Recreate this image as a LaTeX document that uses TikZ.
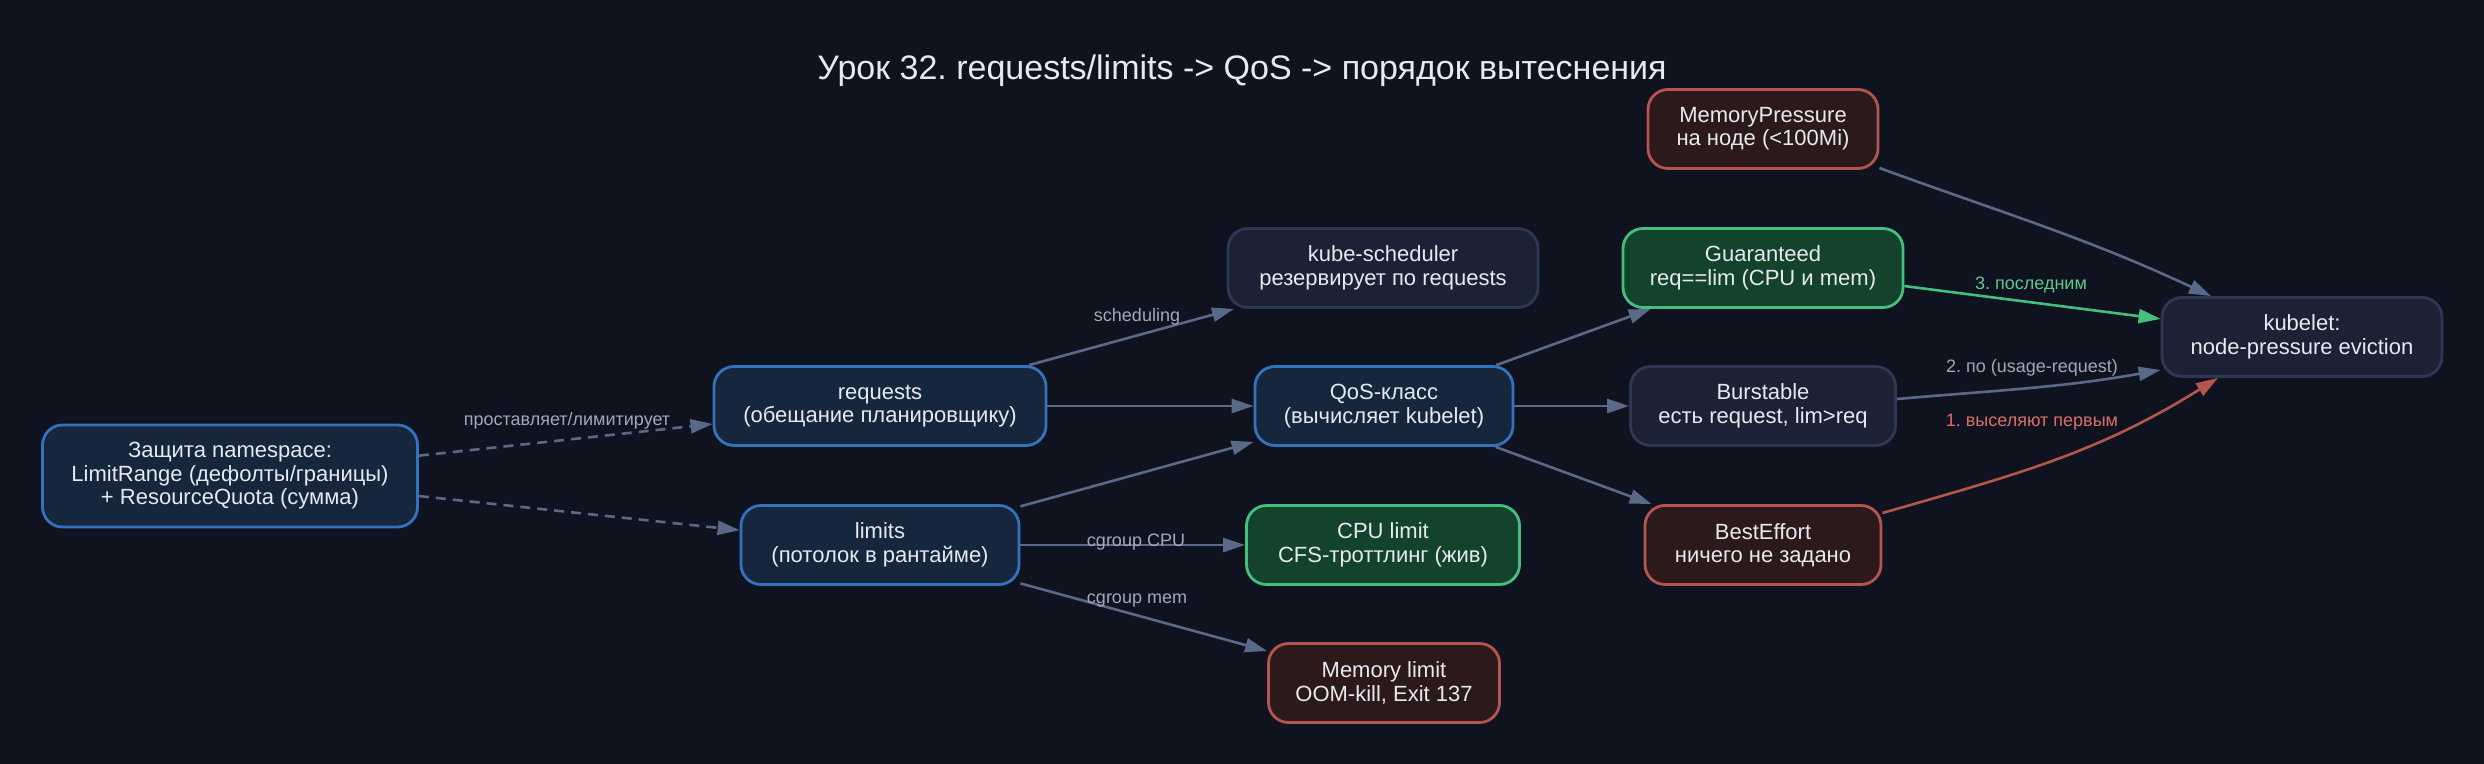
\documentclass[tikz,border=0pt]{standalone}
\usepackage{fontspec}
\setmainfont{Liberation Sans}
\usetikzlibrary{arrows.meta}
\frenchspacing
\definecolor{bg}{RGB}{15,19,32}
\definecolor{txt}{RGB}{230,234,240}
\definecolor{blueFill}{RGB}{22,39,61}
\definecolor{blueLine}{RGB}{50,115,188}
\definecolor{greyFill}{RGB}{28,34,53}
\definecolor{greyLine}{RGB}{46,56,84}
\definecolor{greenFill}{RGB}{20,67,44}
\definecolor{greenLine}{RGB}{70,190,125}
\definecolor{redFill}{RGB}{44,26,27}
\definecolor{redLine}{RGB}{180,85,80}
\definecolor{connCol}{RGB}{90,105,135}
\definecolor{lblCol}{RGB}{160,168,186}
\definecolor{greenLbl}{RGB}{95,200,140}
\definecolor{redLbl}{RGB}{220,110,105}
\begin{document}
\begin{tikzpicture}[x=.5pt,y=-.5pt,
box/.style={rounded corners=10pt,line width=1.4pt,align=center,text=txt,inner sep=0pt,
  font=\fontsize{11}{11.7}\selectfont,minimum height=39.5pt},
bluebox/.style={draw=blueLine,fill=blueFill},
greybox/.style={draw=greyLine,fill=greyFill},
greenbox/.style={draw=greenLine,fill=greenFill},
redbox/.style={draw=redLine,fill=redFill},
conn/.style={draw=connCol,line width=1.3pt,-{Triangle[length=11pt,width=7pt]}},
dashconn/.style={conn,dash pattern=on 5pt off 3.5pt},
lbl/.style={text=lblCol,anchor=base,inner sep=0pt,font=\fontsize{9}{10}\selectfont}]
\useasboundingbox(0,0)rectangle(2484,764);
\fill[bg](0,0)rectangle(2484,764);
\node[anchor=base,text=txt,font=\fontsize{17}{20}\selectfont](title)at(1242,80){Урок 32. requests/limits -> QoS -> порядок вытеснения};
\node[box,bluebox,minimum width=187.5pt,minimum height=51pt](ns)at(230,476){Защита namespace:\\LimitRange (дефолты/границы)\\+ ResourceQuota (сумма)};
\node[box,bluebox,minimum width=166pt](req)at(880,406){requests\\(обещание планировщику)};
\node[box,bluebox,minimum width=139pt](lim)at(880,545){limits\\(потолок в рантайме)};
\node[box,greybox,minimum width=155pt](sched)at(1383,268){kube-scheduler\\резервирует по requests};
\node[box,bluebox,minimum width=129pt](qos)at(1384,406){QoS-класс\\(вычисляет kubelet)};
\node[box,greenbox,minimum width=136.5pt](cpu)at(1383,545){CPU limit\\CFS-троттлинг (жив)};
\node[box,redbox,minimum width=115.5pt](mem)at(1384,683){Memory limit\\OOM-kill, Exit 137};
\node[box,redbox,minimum width=115pt](press)at(1763,129){MemoryPressure\\на ноде (<100Mi)};
\node[box,greenbox,minimum width=140pt](guar)at(1763,268){Guaranteed\\req==lim (CPU и mem)};
\node[box,greybox,minimum width=132.5pt](burst)at(1763,406){Burstable\\есть request, lim>req};
\node[box,redbox,minimum width=118pt](best)at(1763,545){BestEffort\\ничего не задано};
\node[box,greybox,minimum width=140pt](kubelet)at(2302,337){kubelet:\\node-pressure eviction};
\draw[dashconn](ns)--(req)node[lbl,at={(567,426)}]{проставляет/лимитирует};
\draw[dashconn](ns)--(lim);
\draw[conn](req)--(sched)node[lbl,at={(1137,322)}]{scheduling};
\draw[conn](req)--(qos);
\draw[conn](lim)--(qos);
\draw[conn](lim)--(cpu)node[lbl,at={(1136,546)}]{cgroup CPU};
\draw[conn](lim)--(mem)node[lbl,at={(1137,603)}]{cgroup mem};
\draw[conn](qos)--(guar);
\draw[conn](qos)--(burst);
\draw[conn](qos)--(best);
\draw[conn]([yshift=-19.5pt]press.east)to[out=-20,in=155]([xshift=-45.5pt]kubelet.north);
\draw[conn,draw=greenLine](guar)--(kubelet)node[lbl,text=greenLbl,at={(2031,290)}]{3. последним};
\draw[conn]([yshift=3.5pt]burst.east)to[out=5,in=190]([yshift=-16.5pt]kubelet.west)node[lbl,at={(2032,373)}]{2. по (usage-request)};
\draw[conn,draw=redLine]([yshift=16pt]best.east)to[out=16,in=212]([xshift=-42pt]kubelet.south)node[lbl,text=redLbl,at={(2032,427)}]{1. выселяют первым};
\end{tikzpicture}
\end{document}
